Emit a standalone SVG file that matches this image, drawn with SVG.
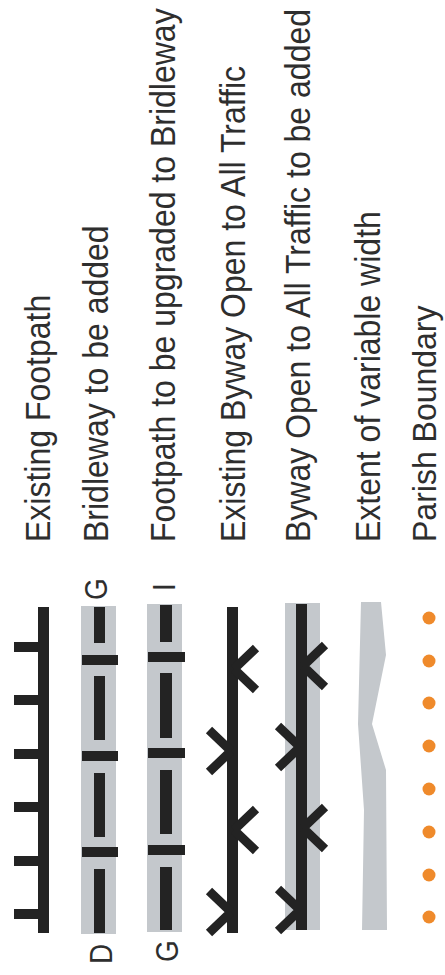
<svg xmlns="http://www.w3.org/2000/svg" width="445" height="975" viewBox="0 0 445 975">
<style>
.lbl{font-family:"Liberation Sans",Arial,sans-serif;font-size:32px;fill:#2e2e2e}
.let{font-family:"Liberation Sans",Arial,sans-serif;font-size:28px;fill:#2e2e2e}
.blk{fill:#232323}
.band{fill:#c4c8cc}
.chev{stroke:#232323;stroke-width:9;fill:none;stroke-linecap:butt}
.dot{fill:#ef8a2b}
</style>
<rect width="445" height="975" fill="#ffffff"/>
<g id="labels">
<text class="lbl" transform="translate(50,542) rotate(-90) scale(1,1.09)">Existing Footpath</text>
<text class="lbl" transform="translate(108,542) rotate(-90) scale(1,1.09)">Bridleway to be added</text>
<text class="lbl" transform="translate(175,542) rotate(-90) scale(1,1.09)">Footpath to be upgraded to Bridleway</text>
<text class="lbl" transform="translate(245,542) rotate(-90) scale(1,1.09)">Existing Byway Open to All Traffic</text>
<text class="lbl" transform="translate(310,542) rotate(-90) scale(1,1.09)">Byway Open to All Traffic to be added</text>
<text class="lbl" transform="translate(380,542) rotate(-90) scale(1,1.09)">Extent of variable width</text>
<text class="lbl" transform="translate(436,542) rotate(-90) scale(1,1.05)">Parish Boundary</text>
</g>
<g id="footpath">
<rect class="blk" x="38" y="607" width="11" height="326"/>
<rect class="blk" x="14" y="642" width="26" height="10"/>
<rect class="blk" x="14" y="695" width="26" height="10"/>
<rect class="blk" x="14" y="749" width="26" height="10"/>
<rect class="blk" x="14" y="802" width="26" height="10"/>
<rect class="blk" x="14" y="856" width="26" height="10"/>
<rect class="blk" x="14" y="909" width="26" height="10"/>
</g>
<g id="bridleway">
<rect class="band" x="81" y="606" width="35" height="328"/>
<rect class="blk" x="94" y="607" width="11" height="36"/>
<rect class="blk" x="94" y="676" width="11" height="64"/>
<rect class="blk" x="94" y="773" width="11" height="64"/>
<rect class="blk" x="94" y="869" width="11" height="64"/>
<rect class="blk" x="82" y="655" width="36" height="10"/>
<rect class="blk" x="82" y="751" width="36" height="10"/>
<rect class="blk" x="82" y="847" width="36" height="10"/>
<text class="let" transform="translate(107,600) rotate(-90) scale(1,1.09)">G</text>
<text class="let" transform="translate(112,964) rotate(-90) scale(1,1.09)">D</text>
</g>
<g id="upgrade">
<rect class="band" x="147" y="604" width="35" height="328"/>
<rect class="blk" x="160" y="605" width="12" height="37"/>
<rect class="blk" x="160" y="673" width="12" height="65"/>
<rect class="blk" x="160" y="770" width="12" height="64"/>
<rect class="blk" x="160" y="867" width="12" height="63"/>
<rect class="blk" x="148" y="652" width="37" height="10"/>
<rect class="blk" x="148" y="748" width="37" height="10"/>
<rect class="blk" x="148" y="845" width="37" height="10"/>
<text class="let" transform="translate(175,591) rotate(-90) scale(1,1.09)">I</text>
<text class="let" transform="translate(178,962) rotate(-90) scale(1,1.09)">G</text>
</g>
<g id="byway">
<rect class="blk" x="227" y="607" width="11" height="326"/>
<path class="chev" d="M234,669 L256,648 M234,669 L256,690 M234,830 L256,809 M234,830 L256,851 M231,751 L209,730 M231,751 L209,772 M231,912 L209,891 M231,912 L209,933"/>
</g>
<g id="byway-added">
<rect class="band" x="285" y="603" width="35" height="327"/>
<rect class="blk" x="296" y="604" width="11" height="326"/>
<path class="chev" d="M303,666 L325,645 M303,666 L325,687 M303,828 L325,807 M303,828 L325,849 M300,747 L278,726 M300,747 L278,768 M300,910 L278,889 M300,910 L278,931"/>
</g>
<g id="variable-width">
<polygon class="band" points="361,602 381,602 386,655 372,724 386,770 387,930 362,930 364,810 358,724"/>
</g>
<g id="parish-boundary">
<circle class="dot" cx="429" cy="618" r="6.5"/>
<circle class="dot" cx="429" cy="661" r="6.5"/>
<circle class="dot" cx="429" cy="703" r="6.5"/>
<circle class="dot" cx="429" cy="746" r="6.5"/>
<circle class="dot" cx="429" cy="789" r="6.5"/>
<circle class="dot" cx="429" cy="832" r="6.5"/>
<circle class="dot" cx="429" cy="875" r="6.5"/>
<circle class="dot" cx="429" cy="917" r="6.5"/>
</g>
</svg>
